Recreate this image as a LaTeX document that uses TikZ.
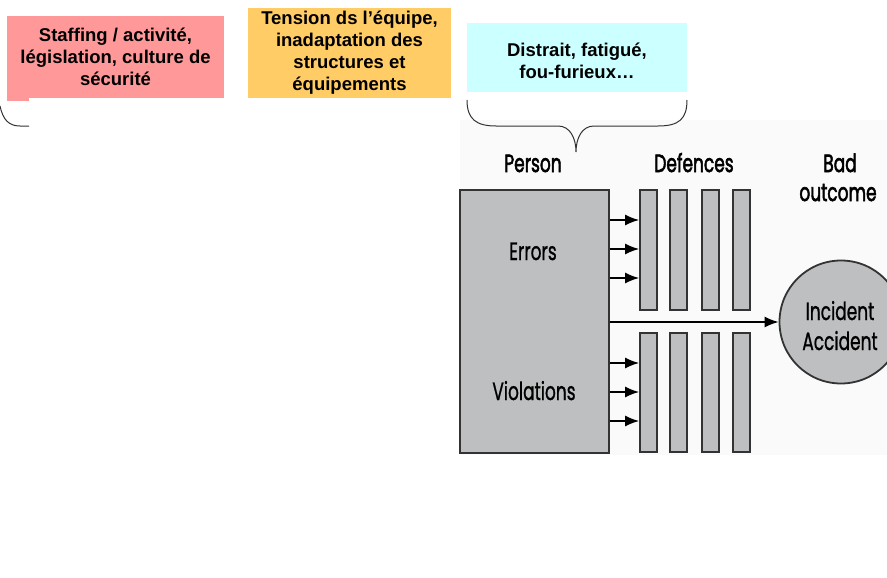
\documentclass[tikz,border=0pt]{standalone}
\usepackage{fontspec}
\usepackage{graphicx}
\setmainfont{Liberation Sans}
\newfontfamily\fut[FakeBold=1.2]{Poppins}
\newfontfamily\futhead[FakeBold=2.6]{Poppins}
\usetikzlibrary{arrows.meta}
\definecolor{pinkbox}{HTML}{FF9999}
\definecolor{orangebox}{HTML}{FFCC66}
\definecolor{cyanbox}{HTML}{CCFFFF}
\definecolor{bargray}{HTML}{BDBFC1}
\definecolor{edgegray}{HTML}{333333}
\definecolor{bggray}{HTML}{FAFAFA}
\newcommand\sq[1]{\scalebox{0.68}[1]{#1}}
\tikzset{
  causebox/.style={rectangle, inner sep=0pt, align=center,
    font=\bfseries\fontsize{18.5}{22}\selectfont},
  graybox/.style={rectangle, draw=edgegray, line width=1.8pt, fill=bargray, inner sep=0pt},
  difont/.style={font=\fut\fontsize{25}{28}\selectfont, inner sep=0pt, anchor=base},
  headfont/.style={font=\futhead\fontsize{25}{28}\selectfont, inner sep=0pt, anchor=base},
  flow/.style={line width=1.5pt, draw=black, -{Latex[length=14pt,width=11pt]}},
  bracestyle/.style={line width=1pt, draw=black!80}
}
\begin{document}
\begin{tikzpicture}[x=1pt,y=-1pt]
\useasboundingbox (0,0) rectangle (887,578);
\clip (0,0) rectangle (887,578);
% faint background of the inserted figure
\fill[bggray] (460,120) rectangle (887,455);

% cause boxes
\node[causebox, fill=pinkbox, minimum width=217pt, minimum height=82pt] (staff) at (115.5,57)
  {Staffing / activité,\\législation, culture de\\sécurité};
\fill[pinkbox] (7,97) rectangle (29,101);
\node[causebox, fill=orangebox, minimum width=203pt, minimum height=90pt] (tension) at (349.5,53)
  {Tension ds l’équipe,\\inadaptation des\\structures et\\équipements};
\node[causebox, fill=cyanbox, minimum width=220pt, minimum height=69pt] (distrait) at (577,57.5) {};
\node[causebox] (distraittext) at (577,61) {Distrait, fatigué,\\fou-furieux…};

% braces
\coordinate (lb1) at (0,106);
\coordinate (lb2) at (29,126);
\draw[bracestyle] (lb1) .. controls (3,120) and (9,126) .. (20,126) -- (lb2);
\coordinate (cb1) at (467,100);
\coordinate (cbtip) at (576,152);
\coordinate (cb2) at (687,100);
\draw[bracestyle] (cb1) .. controls (467,119) and (476,126) .. (496,126) -- (558,126)
  .. controls (570,126) and (576,138) .. (cbtip)
  .. controls (576,138) and (582,126) .. (594,126) -- (658,126)
  .. controls (679,126) and (687,119) .. (cb2);

% headers
\node[headfont] (person) at (533,172) {\sq{Person}};
\node[headfont] (defences) at (694,172) {\sq{Defences}};
\node[headfont] (bad) at (840,172) {\sq{Bad}};
\node[headfont] (outcome) at (838,201) {\sq{outcome}};

% person box
\node[graybox, minimum width=149pt, minimum height=263pt] (pbox) at (534.5,321.5) {};
\node[difont] (errors) at (533,260) {\sq{Errors}};
\node[difont] (violations) at (534,400) {\sq{Violations}};

% defence bars
\foreach \i/\x in {1/648.5,2/678.5,3/710.5,4/741.5}{
  \node[graybox, minimum width=17pt, minimum height=120pt] (t\i) at (\x,250) {};
  \node[graybox, minimum width=17pt, minimum height=119pt] (b\i) at (\x,392.5) {};
}

% outcome circle
\node[graybox, circle, minimum size=123pt] (out) at (841,322) {};
\node[difont] (incident) at (840,320) {\sq{Incident}};
\node[difont] (accident) at (840,350) {\sq{Accident}};

% arrows
\foreach \y in {220,249,278}{
  \draw[flow] (pbox.east |- 0,\y) -- (t1.west |- 0,\y);
}
\foreach \y in {363,392,421}{
  \draw[flow] (pbox.east |- 0,\y) -- (b1.west |- 0,\y);
}
\draw[flow] (pbox.east |- 0,322) -- (out.west);
\end{tikzpicture}
\end{document}
